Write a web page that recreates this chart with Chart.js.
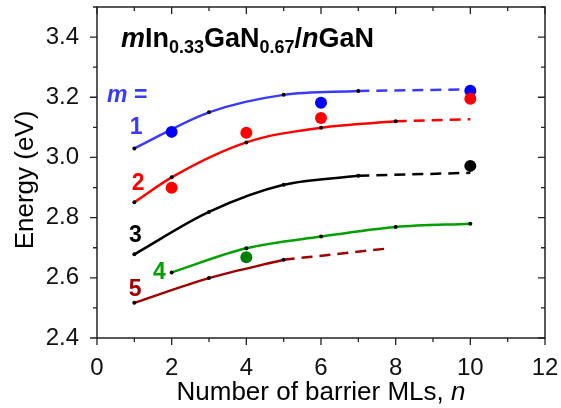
<!DOCTYPE html>
<html>
<head>
<meta charset="utf-8">
<script src="https://cdn.jsdelivr.net/npm/chart.js@4.4.0/dist/chart.umd.min.js"></script>
<style>
  html, body { margin: 0; padding: 0; background: #fff; }
  #wrap { width: 561px; height: 408px; position: relative; }
</style>
</head>
<body>
<div id="wrap"><canvas id="idGrafica" width="561" height="408"></canvas></div>
<script>
// fitted curves (small black dots), n = barrier MLs
var n1 = [1, 3, 5, 7];
var e1 = [3.030, 3.150, 3.208, 3.221];
var n1d = [7, 10];
var e1d = [3.221, 3.226];

var n2 = [1, 2, 4, 6, 8];
var e2 = [2.851, 2.934, 3.050, 3.099, 3.120];
var n2d = [8, 10];
var e2d = [3.120, 3.127];

var n3 = [1, 3, 5, 7];
var e3 = [2.678, 2.819, 2.909, 2.939];
var n3d = [7, 10];
var e3d = [2.939, 2.949];

var n4 = [2, 4, 6, 8, 10];
var e4 = [2.618, 2.698, 2.737, 2.769, 2.780];

var n5 = [1, 3, 5];
var e5 = [2.517, 2.599, 2.660];
var n5d = [5, 7.75];
var e5d = [2.660, 2.697];

// measured (big dots)
var nM1 = [2, 6, 10];
var eM1 = [3.085, 3.182, 3.222];
var nM2 = [2, 4, 6, 10];
var eM2 = [2.899, 3.082, 3.131, 3.195];
var nM3 = [10];
var eM3 = [2.972];
var nM4 = [4];
var eM4 = [2.668];

// tick labels
var xTicks = [0, 2, 4, 6, 8, 10, 12];
var yTicks = [2.4, 2.6, 2.8, 3.0, 3.2, 3.4];

var azul = '#3a3aff', rojo = '#ff0000', negro = '#000000', verde = '#00a000', granate = '#a00000';
var fuente = '"Liberation Sans", Arial, sans-serif';

function pts(xs, ys){
    let r = [];
    for (let i in xs) r.push({x: xs[i], y: ys[i]});
    return r;
}

function curva(xs, ys, color, dashed){
    return {
        type: 'line',
        data: pts(xs, ys),
        borderColor: color,
        borderWidth: 2.5,
        borderDash: dashed ? [11, 7] : [],
        cubicInterpolationMode: 'monotone',
        pointRadius: dashed ? 0 : 2,
        pointBackgroundColor: '#000',
        pointBorderWidth: 0,
        order: dashed ? 6 : 5
    };
}

function medidos(xs, ys, color, ord){
    return {
        type: 'scatter',
        data: pts(xs, ys),
        pointRadius: 6,
        pointBackgroundColor: color,
        pointBorderWidth: 0,
        order: ord
    };
}

// labels, ticks, frame and title
var extras = {
    id: 'extras',
    afterDraw: function(chart){
        const ctx = chart.ctx;
        const xs = chart.scales.x, ys = chart.scales.y;
        const a = chart.chartArea;
        ctx.save();
        ctx.strokeStyle = '#222';
        ctx.lineWidth = 1.5;
        ctx.strokeRect(a.left, a.top, a.right - a.left, a.bottom - a.top);
        ctx.lineWidth = 1.3;
        // x ticks
        for (let v = 0; v <= 12; v++){
            let px = xs.getPixelForValue(v);
            let L = (v % 2 == 0) ? 7 : 4;
            ctx.beginPath();
            ctx.moveTo(px, a.bottom); ctx.lineTo(px, a.bottom + L);
            ctx.moveTo(px, a.top); ctx.lineTo(px, a.top + L);
            ctx.stroke();
        }
        // y ticks
        for (let k = 0; k <= 11; k++){
            let v = 2.4 + k * 0.1;
            let py = ys.getPixelForValue(v);
            let L = (k % 2 == 0) ? 7 : 4;
            ctx.beginPath();
            ctx.moveTo(a.left, py); ctx.lineTo(a.left - L, py);
            ctx.moveTo(a.right, py); ctx.lineTo(a.right - L, py);
            ctx.stroke();
        }

        // curve labels
        ctx.textBaseline = 'middle';
        ctx.textAlign = 'center';
        const etiquetas = [
            ['1', 1.05, 3.098, azul],
            ['2', 1.10, 2.913, rojo],
            ['3', 1.03, 2.739, negro],
            ['4', 1.67, 2.618, verde],
            ['5', 1.02, 2.561, granate]
        ];
        ctx.font = 'bold 23px ' + fuente;
        for (let e of etiquetas){
            ctx.fillStyle = e[3];
            ctx.fillText(e[0], xs.getPixelForValue(e[1]), ys.getPixelForValue(e[2]));
        }
        ctx.textAlign = 'left';
        ctx.fillStyle = azul;
        let mx = xs.getPixelForValue(0.27), my = ys.getPixelForValue(3.207);
        ctx.font = 'italic bold 23px ' + fuente;
        ctx.fillText('m', mx, my);
        let w = ctx.measureText('m ').width;
        ctx.font = 'bold 23px ' + fuente;
        ctx.fillText('=', mx + w, my);

        // title
        ctx.fillStyle = '#000';
        ctx.textBaseline = 'alphabetic';
        let tx = 121, ty = 47;
        const partes = [
            ['m', 'italic bold 27px', 0],
            ['In', 'bold 27px', 0],
            ['0.33', 'bold 18px', 6],
            ['GaN', 'bold 27px', 0],
            ['0.67', 'bold 18px', 6],
            ['/', 'bold 27px', 0],
            ['n', 'italic bold 27px', 0],
            ['GaN', 'bold 27px', 0]
        ];
        for (let p of partes){
            ctx.font = p[1] + ' ' + fuente;
            ctx.fillText(p[0], tx, ty + p[2]);
            tx += ctx.measureText(p[0]).width;
        }

        // axis titles
        let xt = 'Number of barrier MLs, ';
        ctx.font = '26px ' + fuente;
        let w1 = ctx.measureText(xt).width;
        ctx.font = 'italic 26px ' + fuente;
        let w2 = ctx.measureText('n').width;
        let cx = (a.left + a.right) / 2 - (w1 + w2) / 2;
        ctx.font = '26px ' + fuente;
        ctx.fillText(xt, cx, 400);
        ctx.font = 'italic 26px ' + fuente;
        ctx.fillText('n', cx + w1, 400);

        ctx.translate(33, 180);
        ctx.rotate(-Math.PI / 2);
        ctx.textAlign = 'center';
        ctx.font = '26px ' + fuente;
        ctx.fillText('Energy (eV)', 0, 0);
        ctx.restore();
    }
};

var ctx = document.getElementById('idGrafica').getContext('2d');
var mychart = new Chart(ctx, {
    type: 'scatter',
    data: {
        datasets: [
            medidos(nM2, eM2, '#ff0000', 0),
            medidos(nM1, eM1, '#0000ff', 1),
            medidos(nM3, eM3, '#000000', 2),
            medidos(nM4, eM4, '#008000', 2),
            curva(n1, e1, azul, false),
            curva(n1d, e1d, azul, true),
            curva(n2, e2, rojo, false),
            curva(n2d, e2d, rojo, true),
            curva(n3, e3, negro, false),
            curva(n3d, e3d, negro, true),
            curva(n4, e4, verde, false),
            curva(n5, e5, granate, false),
            curva(n5d, e5d, granate, true)
        ]
    },
    options: {
        responsive: false,
        animation: false,
        layout: { padding: { top: 7, right: 16, left: 0, bottom: 0 } },
        plugins: { legend: { display: false }, tooltip: { enabled: false } },
        scales: {
            x: {
                type: 'linear', min: 0, max: 12,
                grid: { display: false },
                border: { display: false },
                afterFit: function(s){ s.height = 70; s.paddingLeft = 0; s.paddingRight = 0; },
                afterBuildTicks: function(s){ s.ticks = xTicks.map(v => ({value: v})); },
                ticks: {
                    autoSkip: false, maxRotation: 0, padding: 8,
                    color: '#111',
                    font: { family: fuente, size: 24 },
                    callback: function(v){ return String(v); }
                }
            },
            y: {
                type: 'linear', min: 2.4, max: 3.5,
                grid: { display: false },
                border: { display: false },
                afterFit: function(s){ s.width = 97; s.paddingTop = 0; s.paddingBottom = 0; },
                afterBuildTicks: function(s){ s.ticks = yTicks.map(v => ({value: v})); },
                ticks: {
                    padding: 10,
                    color: '#111',
                    font: { family: fuente, size: 24 },
                    callback: function(v){ return v.toFixed(1); }
                }
            }
        }
    },
    plugins: [extras]
});
</script>
</body>
</html>
